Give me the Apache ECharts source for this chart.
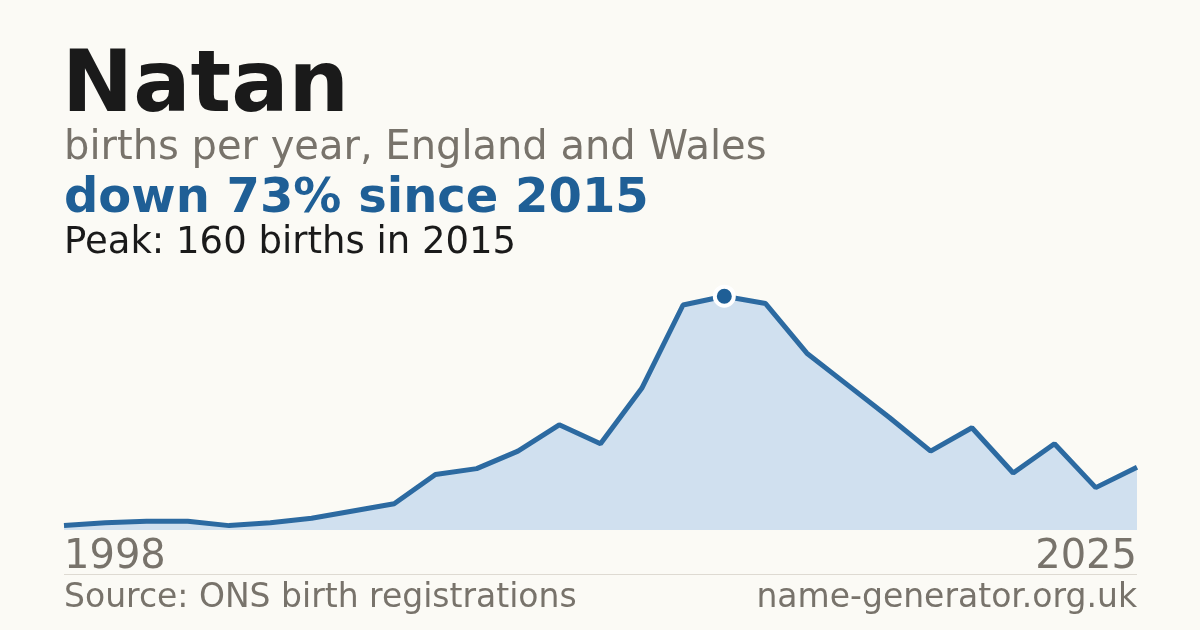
<!DOCTYPE html>
<html>
<head>
<meta charset="utf-8">
<script src="https://cdn.jsdelivr.net/npm/echarts@6/dist/echarts.min.js"></script>
<style>
  html, body { margin: 0; padding: 0; background: #fbfaf5; }
  #chart { width: 1200px; height: 630px; }
</style>
</head>
<body>
<div id="chart"></div>
<script>
// years on the axis (one year has no record, so 27 points)
var years = ['1998', '1999', '2000', '2002', '2003', '2004', '2005', '2006', '2007',
  '2008', '2009', '2010', '2011', '2012', '2013', '2014', '2015', '2016', '2017',
  '2018', '2019', '2020', '2021', '2022', '2023', '2024', '2025'];
// births per year
var births = [3, 5, 6, 6, 3, 5, 8, 13, 18, 38, 42, 54, 72, 59, 97, 154, 160, 155, 121,
  99, 77, 54, 70, 39, 59, 29, 43];

var name = 'Natan';
var subtitle = 'births per year, England and Wales';
var source = 'Source: ONS birth registrations';
var site = 'name-generator.org.uk';

var font = 'DejaVu Sans';
var blue = '#1f5f96';
var grey = '#78736b';

// peak and change since peak
var peakIdx = 0;
for (var i = 1; i < births.length; i++) {
  if (births[i] > births[peakIdx]) peakIdx = i;
}
var peakVal = births[peakIdx];
var lastVal = births[births.length - 1];
var change = Math.round((peakVal - lastVal) / peakVal * 100);
var deltaText = 'down ' + change + '% since ' + years[peakIdx];
var peakText = 'Peak: ' + peakVal + ' births in ' + years[peakIdx];

var chart = echarts.init(document.getElementById('chart'));

function txt(x, y, text, size, color, weight, align) {
  return {
    type: 'text',
    left: align === 'right' ? null : x,
    right: align === 'right' ? x : null,
    top: y,
    style: {
      text: text,
      fontFamily: font,
      fontSize: size,
      fontWeight: weight || 'normal',
      fill: color,
      textAlign: align || 'left'
    }
  };
}

var option = {
  backgroundColor: '#fbfaf5',
  animation: false,
  grid: { left: 64, right: 63, top: 267, bottom: 100 },
  xAxis: {
    type: 'category',
    data: years,
    boundaryGap: false,
    axisLine: { show: false },
    axisTick: { show: false },
    splitLine: { show: false },
    axisLabel: {
      interval: function (index) { return index === 0 || index === years.length - 1; },
      showMinLabel: true,
      showMaxLabel: true,
      alignMinLabel: 'left',
      alignMaxLabel: 'right',
      margin: 8,
      color: grey,
      fontFamily: font,
      fontSize: 40
    }
  },
  yAxis: {
    type: 'value',
    min: 0,
    max: 180,
    show: false,
    splitLine: { show: false }
  },
  series: [
    {
      type: 'line',
      data: births,
      showSymbol: false,
      lineStyle: { color: '#2c6aa1', width: 5 },
      areaStyle: { color: '#d0e0ef', opacity: 1 },
      z: 2
    },
    {
      type: 'scatter',
      data: [[peakIdx, peakVal]],
      symbol: 'circle',
      symbolSize: 19,
      itemStyle: { color: blue, borderColor: '#ffffff', borderWidth: 4, opacity: 1 },
      z: 3
    }
  ],
  graphic: [
    txt(62, 46, name, 85, '#1a1a1a', 'bold'),
    txt(64, 129, subtitle, 40, grey),
    txt(64, 176, deltaText, 48, blue, 'bold'),
    txt(64, 225, peakText, 37, '#1a1a1a'),
    {
      type: 'rect',
      shape: { x: 64, y: 574, width: 1073, height: 1 },
      style: { fill: '#dedad2' }
    },
    txt(64, 582, source, 33, grey),
    txt(63, 582, site, 33, grey, 'normal', 'right')
  ]
};

chart.setOption(option);
</script>
</body>
</html>
